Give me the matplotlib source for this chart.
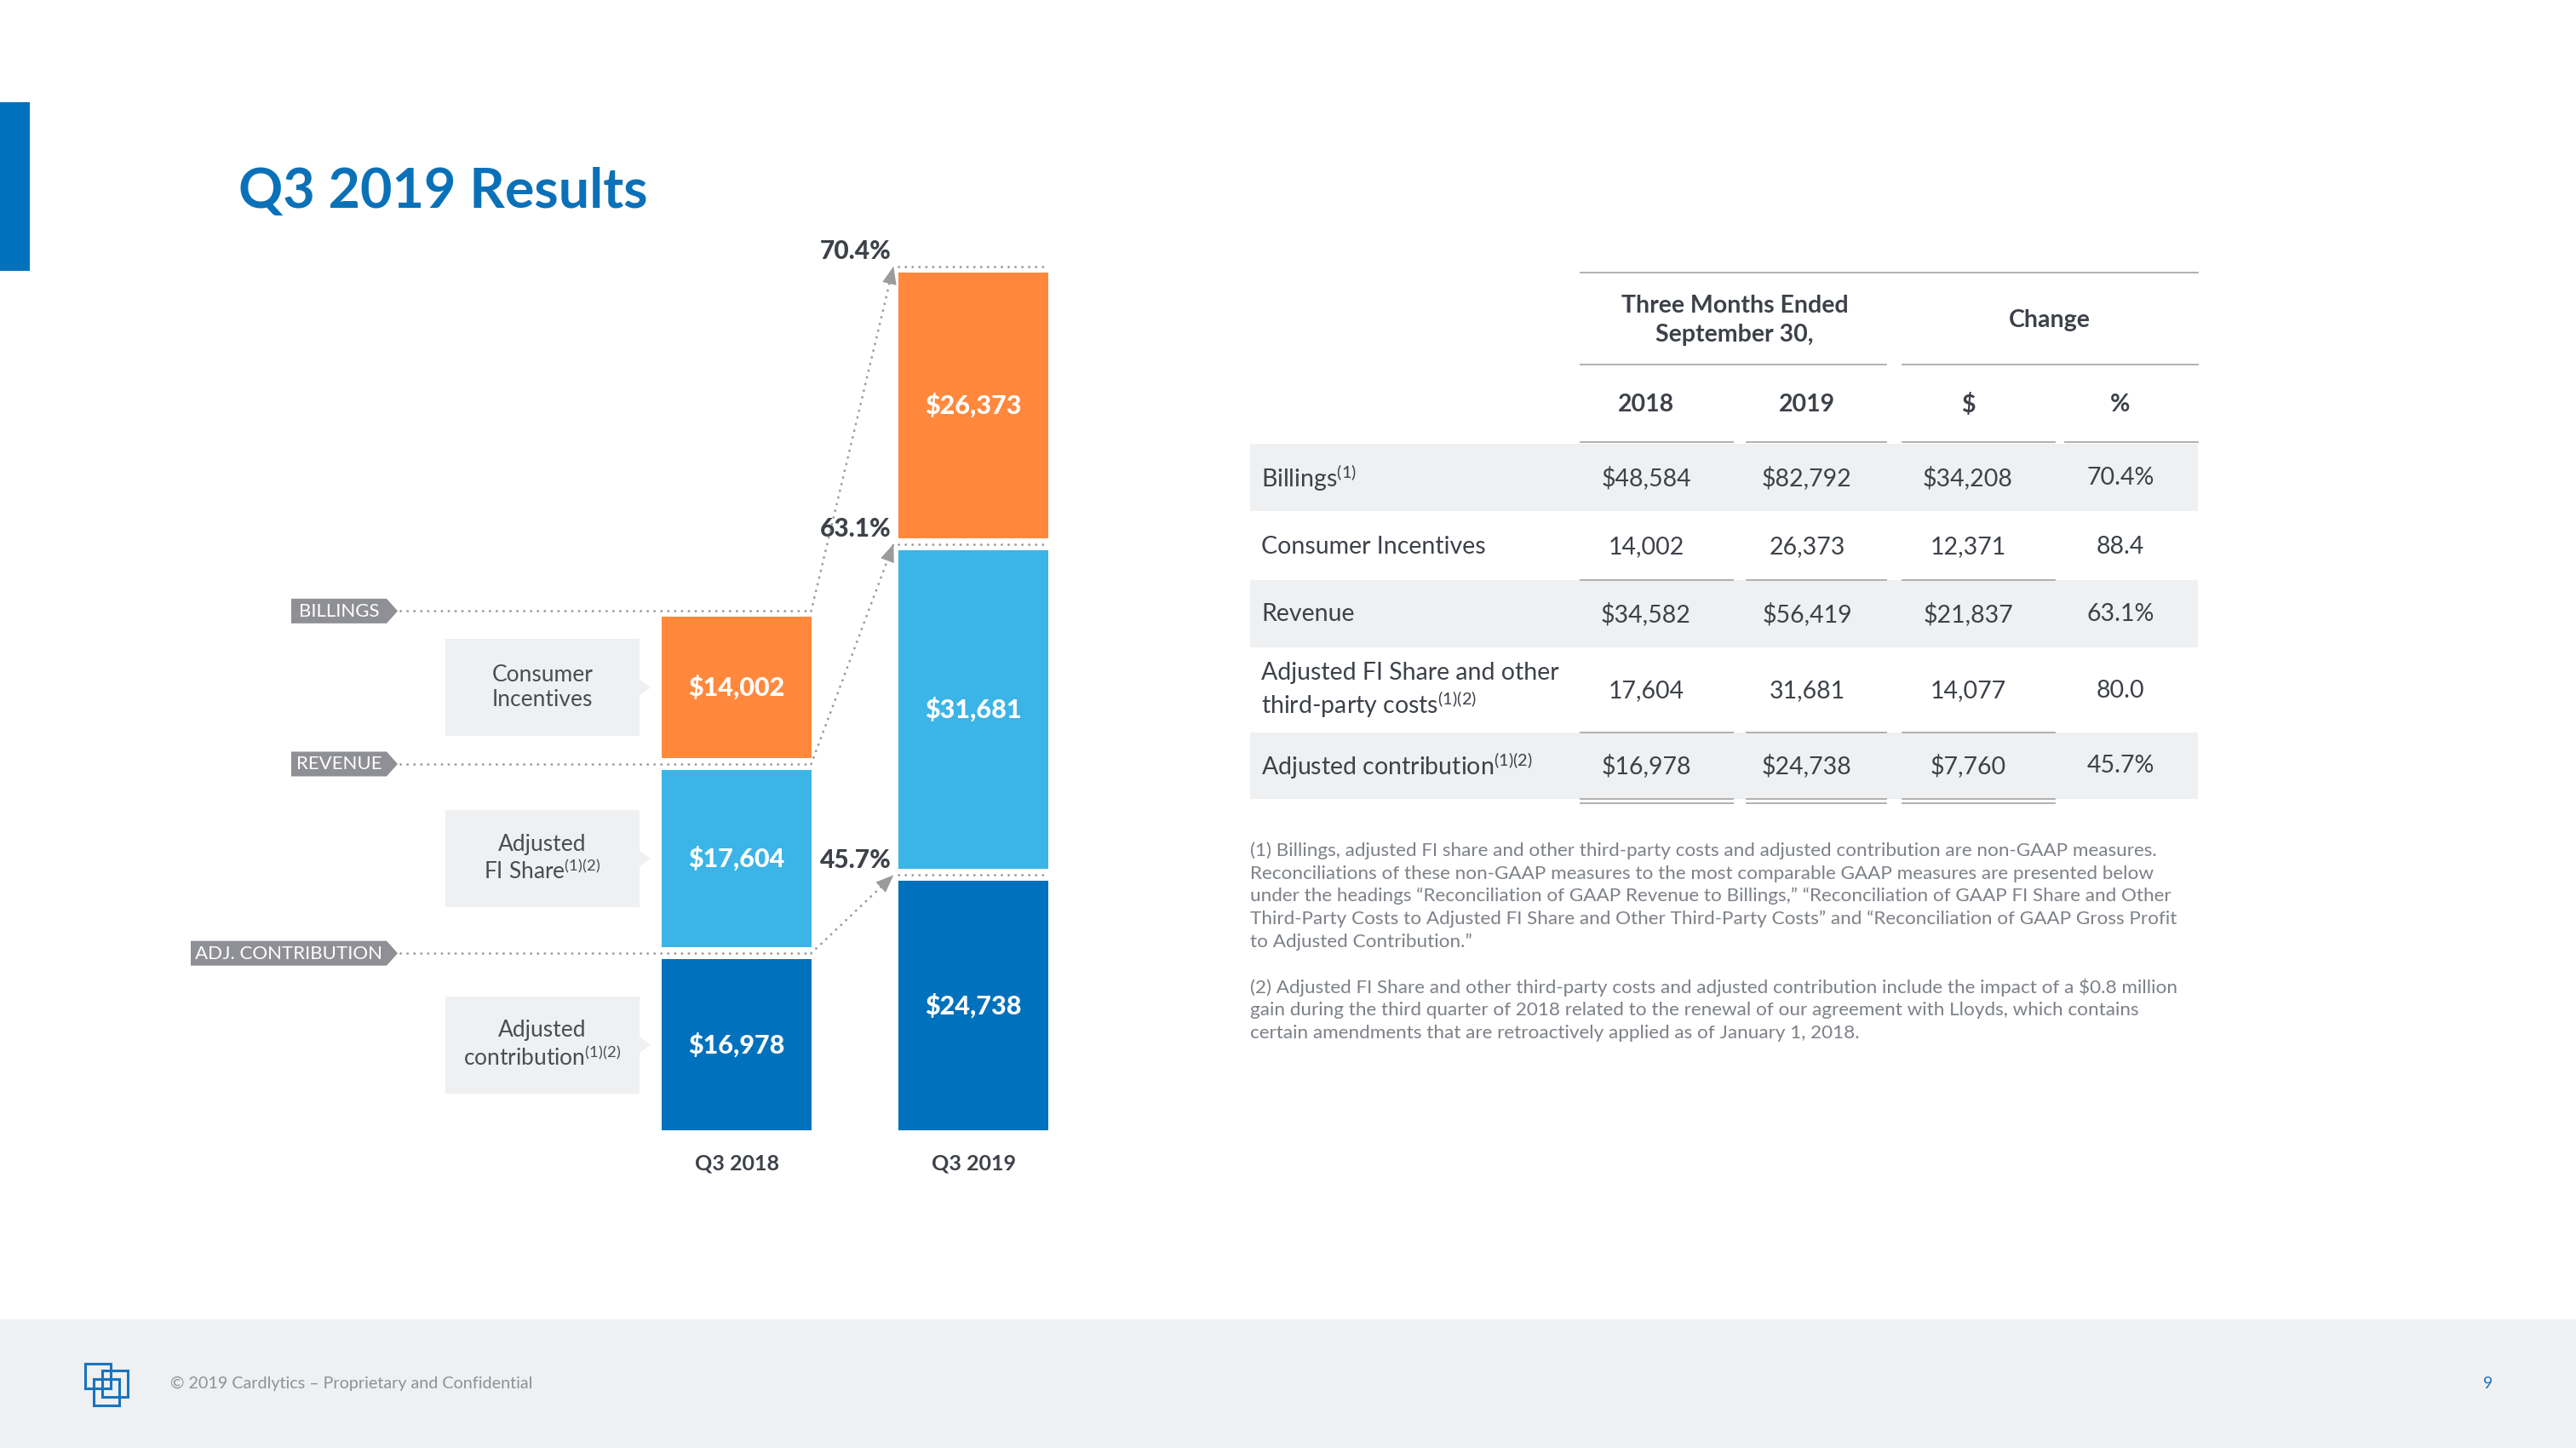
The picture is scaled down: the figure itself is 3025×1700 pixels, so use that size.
import matplotlib
matplotlib.use("Agg")
import matplotlib.pyplot as plt
from matplotlib.patches import Rectangle, Polygon
import numpy as np

plt.rcParams['font.family'] = ['Lato', 'DejaVu Sans']
plt.rcParams['mathtext.fontset'] = 'custom'
plt.rcParams['mathtext.rm'] = 'Lato'
plt.rcParams['mathtext.it'] = 'Lato:italic'
plt.rcParams['mathtext.bf'] = 'Lato:bold'

# ---------------- DATA ----------------
periods = ["Q3 2018", "Q3 2019"]
adj_contribution = [16978, 24738]
adj_fi_share = [17604, 31681]
consumer_incentives = [14002, 26373]
revenue = [34582, 56419]
billings = [48584, 82792]
change_dollar = [34208, 12371, 21837, 14077, 7760]
change_pct = [70.4, 88.4, 63.1, 80.0, 45.7]
row_labels = [r"Billings$^{(1)}$", "Consumer Incentives", "Revenue",
              "Adjusted FI Share and other\n" + r"third-party costs$^{(1)(2)}$",
              r"Adjusted contribution$^{(1)(2)}$"]
row_is_total = [True, False, True, False, True]
segment_labels = [r"Adjusted" + "\n" + r"contribution$^{(1)(2)}$",
                  r"Adjusted" + "\n" + r"FI Share$^{(1)(2)}$",
                  "Consumer\nIncentives"]
level_tags = ["ADJ. CONTRIBUTION", "REVENUE", "BILLINGS"]
footnotes_1 = [
    "(1) Billings, adjusted FI share and other third-party costs and adjusted contribution are non-GAAP measures.",
    "Reconciliations of these non-GAAP measures to the most comparable GAAP measures are presented below",
    "under the headings \u201cReconciliation of GAAP Revenue to Billings,\u201d \u201cReconciliation of GAAP FI Share and Other",
    "Third-Party Costs to Adjusted FI Share and Other Third-Party Costs\u201d and \u201cReconciliation of GAAP Gross Profit",
    "to Adjusted Contribution.\u201d",
]
footnotes_2 = [
    "(2) Adjusted FI Share and other third-party costs and adjusted contribution include the impact of a \\$0.8 million",
    "gain during the third quarter of 2018 related to the renewal of our agreement with Lloyds, which contains",
    "certain amendments that are retroactively applied as of January 1, 2018.",
]

# ---------------- STYLE ----------------
ORANGE = '#FF883D'
LIGHT = '#3BB4E7'
DARK = '#0071BC'
TITLE_BLUE = '#0A71B9'
TAG_GRAY = '#8F9095'
BOX = '#EFF0F2'
TXT = '#3D4148'
BOXTXT = '#4A4D52'
NOTE = '#7D8187'
DOT = '#9B9B9B'
LINE = '#AAAAAA'
DOTSTYLE = dict(color=DOT, lw=2, ls=(0, (0.1, 2.8)), dash_capstyle='round')
TFS = 20.5  # table font size

W, H = 3025, 1700
fig = plt.figure(figsize=(W / 100, H / 100), dpi=100)
fig.patch.set_facecolor('white')

page = fig.add_axes([0, 0, 1, 1], zorder=0)
page.set_xlim(0, W)
page.set_ylim(H, 0)
page.axis('off')

ax = fig.add_axes([0, 0, 1, 1], zorder=1)
ax.patch.set_alpha(0)
ax.axis('off')
x0_px, px_per_x = 865, 278
baseline_px, px_per_unit = 1327, 0.01183
ax.set_xlim(-x0_px / px_per_x, (W - x0_px) / px_per_x)
ax.set_ylim(-(H - baseline_px) / px_per_unit, baseline_px / px_per_unit)


def d2p(x, y):
    return page.transData.inverted().transform(ax.transData.transform((x, y)))


# ---------------- decorations ----------------
page.add_patch(Rectangle((0, 120), 35, 198, color=DARK, lw=0))
page.text(280, 244, "Q3 2019 Results", fontsize=46.5, fontweight='bold',
          color=TITLE_BLUE, va='baseline', ha='left')

# footer
page.add_patch(Rectangle((0, 1549), W, 151, color=BOX, lw=0))
for (lx, ly, lw_, lh) in [(100, 1601, 30, 29), (119.5, 1609, 30.5, 31), (109.5, 1619, 30.5, 31)]:
    page.add_patch(Rectangle((lx, ly), lw_, lh, fill=False, ec='#1874BE', lw=2.2))
page.text(200, 1624, "\u00a9 2019 Cardlytics \u2013 Proprietary and Confidential",
          fontsize=14.2, color='#8E9196', va='center', ha='left')
page.text(2922, 1624, "9", fontsize=14, color='#1874BE', va='center', ha='center')

# ---------------- bar chart ----------------
gap = 1180
width = 0.63
xs = np.arange(len(periods))
layers = [(adj_contribution, DARK), (adj_fi_share, LIGHT), (consumer_incentives, ORANGE)]
cum = np.zeros(len(periods))
levels = []
centers_2018 = []
for i, (vals, col) in enumerate(layers):
    vals = np.array(vals, float)
    b = cum + i * gap
    ax.bar(xs, vals, width, bottom=b, color=col, lw=0, zorder=2)
    for xi, bi, v in zip(xs, b, vals):
        ax.text(xi, bi + v / 2, f"\\${int(v):,}", color='white', fontsize=22,
                fontweight='black', ha='center', va='center', zorder=3)
    centers_2018.append(b[0] + vals[0] / 2)
    cum = cum + vals
    levels.append(cum + i * gap + gap / 2)

# category labels
for xi, p in zip(xs, periods):
    ax.annotate(p, (xi, 0), xytext=(0, -28), textcoords='offset points',
                ha='center', va='center', fontsize=18, fontweight='bold', color=TXT)

# level lines, tags, arrows, percent labels
pct_for_level = [change_pct[4], change_pct[2], change_pct[0]]
tag_left = [224, 342, 342]
tip_px = 470
for lev, tag, tl, pct in zip(levels, level_tags, tag_left, pct_for_level):
    ax.plot([1 - width / 2, 1 + width / 2], [lev[1], lev[1]], zorder=4, **DOTSTYLE)
    _, yp = d2p(0, lev[0])
    xr, _ = d2p(width / 2, lev[0])
    page.plot([tip_px, xr], [yp, yp], **DOTSTYLE)
    hh = 14.5
    page.add_patch(Polygon([(tl, yp - hh), (454, yp - hh), (467, yp),
                            (454, yp + hh), (tl, yp + hh)], closed=True,
                           color=TAG_GRAY, lw=0))
    page.text((tl + 454) / 2, yp + 0.5, tag, fontsize=16, color='white',
              ha='center', va='center')
    end = (1 - width / 2 - 0.022, lev[1])
    start = (width / 2, lev[0])
    ax.plot([start[0], end[0]], [start[1], end[1]], zorder=4, **DOTSTYLE)
    ps = d2p(*start)
    pe = d2p(*end)
    L = np.hypot(*(pe - ps))
    t = 1 - 30 / L
    back = (start[0] + t * (end[0] - start[0]), start[1] + t * (end[1] - start[1]))
    ax.annotate('', xy=end, xytext=back,
                arrowprops=dict(arrowstyle='-|>,head_length=0.75,head_width=0.3',
                                fc=DOT, ec=DOT, lw=0.01, mutation_scale=20,
                                shrinkA=0, shrinkB=0), zorder=5)
    ax.annotate(f"{pct:.1f}%", xy=(1 - width / 2, lev[1]), xytext=(-6.5, 6),
                textcoords='offset points', ha='right', va='baseline',
                fontsize=21.5, fontweight='black', color=TXT)

# segment description boxes
for c, lab in zip(centers_2018, segment_labels):
    _, yc = d2p(0, c)
    page.add_patch(Rectangle((523, yc - 57), 228, 114, color=BOX, lw=0))
    page.add_patch(Polygon([(750, yc - 10), (764, yc), (750, yc + 10)], closed=True,
                           color=BOX, lw=0))
    page.text(637, yc, lab, fontsize=19, color=BOXTXT, ha='center', va='center',
              multialignment='center', linespacing=1.2)

# ---------------- table ----------------
col_x = [1933, 2122, 2311, 2490]
col_seg = [(1856, 2035), (2051, 2215), (2234, 2413), (2425, 2581)]
row_y = [561, 642, 721, 811, 899]
shade = [(521, 600), (681, 760), (860, 938)]
for y0, y1 in shade:
    page.add_patch(Rectangle((1468, y0), 2581 - 1468, y1 - y0, color=BOX, lw=0))

page.plot([1856, 2581], [320, 320], color=LINE, lw=1.3)
page.plot([1856, 2215], [428, 428], color=LINE, lw=1.3)
page.plot([2234, 2581], [428, 428], color=LINE, lw=1.3)
for a, b in col_seg:
    page.plot([a, b], [519, 519], color=LINE, lw=1.3)
for yl in [681, 860, 938, 943]:
    for a, b in col_seg[:3]:
        page.plot([a, b], [yl, yl], color=LINE, lw=1.3)

hdr = dict(fontsize=TFS, fontweight='bold', color=TXT, ha='center', va='center')
page.text(2037, 376, "Three Months Ended\nSeptember 30,", linespacing=1.35,
          multialignment='center', **hdr)
page.text(2407, 376, "Change", **hdr)
for cx, h in zip(col_x, ["2018", "2019", "\\$", "%"]):
    page.text(cx, 475, h, **hdr)

table_series = [billings, consumer_incentives, revenue, adj_fi_share, adj_contribution]
for i in range(len(row_labels)):
    yv = row_y[i]
    page.text(1481, yv, row_labels[i], fontsize=TFS, color=TXT, ha='left', va='center',
              linespacing=1.2)
    pre = "\\$" if row_is_total[i] else ""
    vals_row = [table_series[i][0], table_series[i][1], change_dollar[i]]
    cells = [f"{pre}{v:,}" for v in vals_row]
    cells.append(f"{change_pct[i]:.1f}" + ("%" if row_is_total[i] else ""))
    for cx, s in zip(col_x, cells):
        page.text(cx, yv, s, fontsize=TFS, color=TXT, ha='center', va='center')

# footnotes
for k, line in enumerate(footnotes_1):
    page.text(1468, 999 + k * 26.6, line, fontsize=16.2, color=NOTE, ha='left', va='center')
for k, line in enumerate(footnotes_2):
    page.text(1468, 1159 + k * 26.8, line, fontsize=16.2, color=NOTE, ha='left', va='center')

fig.savefig("out.png", dpi=100, facecolor='white')
